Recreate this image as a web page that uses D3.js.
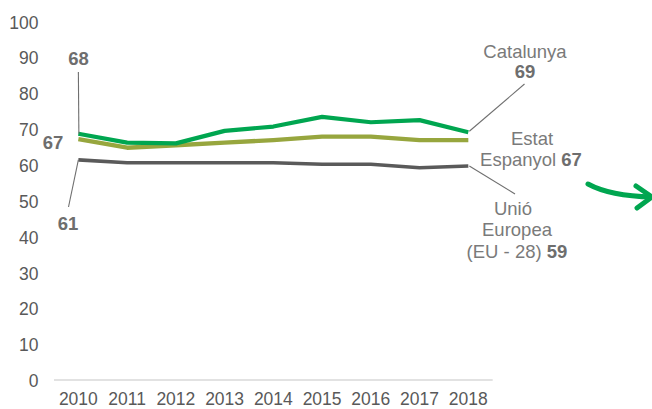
<!DOCTYPE html>
<html>
<head>
<meta charset="utf-8">
<script src="https://cdn.jsdelivr.net/npm/d3@7/dist/d3.min.js"></script>
<style>
  html, body { margin: 0; padding: 0; background: #fff; }
  svg { display: block; font-family: "Liberation Sans", Arial, sans-serif; }
</style>
</head>
<body>
<svg id="chart" width="652" height="409"></svg>
<script>
const years = ["2010","2011","2012","2013","2014","2015","2016","2017","2018"];
const catalunya = [68.7, 66.2, 66.0, 69.5, 70.7, 73.4, 71.9, 72.5, 69.1];
const espanya   = [67.2, 64.8, 65.5, 66.2, 66.9, 67.9, 67.9, 66.9, 66.9];
const ue        = [61.4, 60.6, 60.6, 60.6, 60.6, 60.2, 60.2, 59.2, 59.7];
const yTicks = [0, 10, 20, 30, 40, 50, 60, 70, 80, 90, 100];

const svg = d3.select("#chart");
const x = d3.scaleBand().domain(years).range([54, 492.7]);
const cx = d => x(d) + x.bandwidth() / 2;
const y = d3.scaleLinear().domain([0, 100]).range([380, 21.5]);

// y tick labels
svg.append("g").selectAll("text").data(yTicks).join("text")
  .attr("x", 38.5).attr("y", d => y(d) + 1).attr("dy", "0.35em")
  .attr("text-anchor", "end").attr("font-size", 17.5).attr("fill", "#595959")
  .text(d => d);

// baseline
svg.append("line").attr("x1", 54).attr("x2", 492.7)
  .attr("y1", y(0)).attr("y2", y(0)).attr("stroke", "#d9d9d9").attr("stroke-width", 1.3);

// x tick labels
svg.append("g").selectAll("text").data(years).join("text")
  .attr("x", d => cx(d)).attr("y", 405)
  .attr("text-anchor", "middle").attr("font-size", 17.5).attr("fill", "#595959")
  .text(d => d);

const line = d3.line().x((d, i) => cx(years[i])).y(d => y(d));

const series = [
  { values: ue, color: "#5a5a5a", w: 3.6 },
  { values: espanya, color: "#97a63e", w: 4.4 },
  { values: catalunya, color: "#00a650", w: 4.2 }
];
svg.append("g").selectAll("path").data(series).join("path")
  .attr("d", d => line(d.values)).attr("fill", "none")
  .attr("stroke", d => d.color).attr("stroke-width", d => d.w)
  .attr("stroke-linejoin", "round").attr("stroke-linecap", "butt");

// leader lines
const lead = svg.append("g").attr("stroke", "#6f6f6f").attr("stroke-width", 1.1).attr("fill", "none");
const x0 = cx(years[0]), xN = cx(years[years.length - 1]);
lead.append("line").attr("x1", x0).attr("y1", 72).attr("x2", x0 + 0.5).attr("y2", y(catalunya[0]));
lead.append("line").attr("x1", x0).attr("y1", y(ue[0])).attr("x2", 68.5).attr("y2", 207);
lead.append("line").attr("x1", xN + 1).attr("y1", y(catalunya[8]) - 1).attr("x2", 524.5).attr("y2", 84);
lead.append("line").attr("x1", xN + 1).attr("y1", y(ue[8])).attr("x2", 515).attr("y2", 194);

const lab = svg.append("g").attr("font-size", 18.5).attr("fill", "#7a7a7a");
function txt(xp, yp, parts, anchor) {
  const t = lab.append("text").attr("x", xp).attr("y", yp).attr("text-anchor", anchor || "middle");
  parts.forEach(p => {
    t.append("tspan").attr("font-weight", p.b ? "bold" : "normal")
      .attr("fill", p.b ? "#6e6e6e" : "#7a7a7a").text(p.t);
  });
}
// left labels
txt(78.5, 64.5, [{ t: "68", b: true }]);
txt(53, 149, [{ t: "67", b: true }]);
txt(68, 229.5, [{ t: "61", b: true }]);
// right labels
txt(525, 57.5, [{ t: "Catalunya" }]);
txt(525, 78, [{ t: "69", b: true }]);
txt(532, 144.5, [{ t: "Estat" }]);
txt(531, 165.5, [{ t: "Espanyol " }, { t: "67", b: true }]);
txt(513, 215, [{ t: "Unió" }]);
txt(517, 236, [{ t: "Europea" }]);
txt(517, 257.5, [{ t: "(EU - 28) " }, { t: "59", b: true }]);

// green arrow decoration
const arr = svg.append("g").attr("stroke", "#00a650").attr("stroke-width", 5)
  .attr("fill", "none").attr("stroke-linecap", "round").attr("stroke-linejoin", "round");
arr.append("path").attr("d", "M588,184 Q610,196 652,197");
arr.append("path").attr("d", "M636,186 L652,197 L637,208");
</script>
</body>
</html>
